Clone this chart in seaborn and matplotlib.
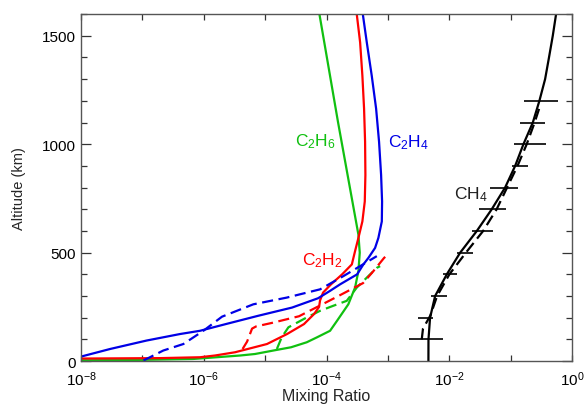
import matplotlib
matplotlib.use("Agg")
import matplotlib.pyplot as plt
from matplotlib.ticker import MultipleLocator, NullLocator
import seaborn as sns

# model profiles: mixing ratio vs altitude (km)
ch4_alt = [0, 100, 200, 300, 400, 500, 600, 700, 800, 900, 1000, 1100, 1200, 1300, 1400, 1500, 1600]
ch4_mix = [4.56e-3, 4.57e-3, 4.85e-3, 5.86e-3, 9.08e-3, 1.50e-2, 2.80e-2, 4.90e-2, 8.09e-2,
           0.118, 0.161, 0.229, 0.293, 0.363, 0.42, 0.484, 0.548]
ch4_dash_alt = [100, 150, 210, 300, 400, 500, 600, 700, 800, 900, 1000, 1100, 1170]
ch4_dash_mix = [3.55e-3, 3.72e-3, 4.90e-3, 6.31e-3, 1.0e-2, 1.86e-2, 3.55e-2, 5.89e-2, 8.71e-2,
                0.129, 0.182, 0.245, 0.295]

# CH4 observations (horizontal error bars)
obs_alt = [100, 200, 300, 400, 500, 600, 700, 800, 900, 1000, 1100, 1200]
obs_lo = [2.23e-3, 3.13e-3, 4.99e-3, 7.82e-3, 1.32e-2, 2.32e-2, 3.09e-2, 4.61e-2, 0.104, 0.115, 0.144, 0.163]
obs_hi = [8.0e-3, 5.5e-3, 9.29e-3, 1.32e-2, 2.47e-2, 5.22e-2, 8.41e-2, 0.133, 0.190, 0.377, 0.368, 0.58]

c2h6_alt = [1600, 1100, 583, 500, 415, 339, 262, 186, 140, 110, 87, 64, 49, 33, 26, 10, 6, 4, 3]
c2h6_mix = [7.64e-5, 1.54e-4, 3.30e-4, 3.47e-4, 3.30e-4, 2.91e-4, 2.26e-4, 1.48e-4, 1.14e-4,
            7.0e-5, 4.75e-5, 2.64e-5, 1.36e-5, 6.84e-6, 3.90e-6, 6.68e-7, 1.0e-7, 1.0e-8, 1.0e-9]
c2h6_dash_alt = [56, 110, 156, 201, 232, 255, 278, 339, 385, 430, 438]
c2h6_dash_mix = [1.55e-5, 1.86e-5, 2.39e-5, 4.72e-5, 7.83e-5, 1.28e-4, 2.13e-4, 3.10e-4,
                 4.52e-4, 6.58e-4, 7.45e-4]

c2h2_alt = [1600, 1469, 1316, 1164, 1011, 858, 736, 644, 568, 507, 446, 400, 354, 316, 280, 250,
            217, 171, 125, 79, 41, 26, 18, 14, 12, 11]
c2h2_mix = [3.10e-4, 3.52e-4, 3.83e-4, 4.08e-4, 4.24e-4, 4.29e-4, 4.19e-4, 3.83e-4, 3.30e-4,
            2.91e-4, 2.58e-4, 1.79e-4, 1.18e-4, 8.77e-5, 7.83e-5, 7.55e-5, 6.25e-5, 4.29e-5,
            2.27e-5, 1.07e-5, 3.23e-6, 1.52e-6, 8.69e-7, 1.94e-7, 1.0e-8, 5.0e-9]
c2h2_dash_alt = [56, 90, 150, 160, 177, 207, 252, 296, 360, 415, 476, 484]
c2h2_dash_mix = [4.28e-6, 5.07e-6, 6.11e-6, 7.10e-6, 1.32e-5, 3.56e-5, 7.28e-5, 1.46e-4,
                 3.94e-4, 5.79e-4, 8.65e-4, 9.31e-4]

c2h4_alt = [1600, 1469, 1316, 1164, 1011, 858, 736, 644, 568, 522, 476, 446, 400, 354, 324, 290,
            247, 209, 170, 140, 125, 95, 56, 21]
c2h4_mix = [3.89e-4, 4.52e-4, 5.44e-4, 6.41e-4, 7.16e-4, 7.73e-4, 8.02e-4, 7.94e-4, 6.98e-4,
            6.17e-4, 4.80e-4, 3.98e-4, 3.14e-4, 1.66e-4, 1.14e-4, 7.28e-5, 2.74e-5, 7.66e-6,
            2.22e-6, 8.69e-7, 4.10e-7, 1.17e-7, 2.97e-8, 1.0e-8]
c2h4_dash_alt = [3, 49, 79, 140, 205, 262, 293, 331, 392, 438, 484]
c2h4_dash_mix = [1.04e-7, 2.19e-7, 4.65e-7, 9.84e-7, 1.98e-6, 6.41e-6, 2.25e-5, 7.83e-5,
                 1.88e-4, 3.52e-4, 6.58e-4]

# species labels: text, x (left edge), altitude
label_text = [r"C$_2$H$_6$", r"C$_2$H$_4$", r"C$_2$H$_2$", r"CH$_4$"]
label_x = [3.07e-5, 1.0e-3, 3.95e-5, 1.19e-2]
label_y = [1017, 1012, 467, 770]

x_ticks = [1e-8, 1e-7, 1e-6, 1e-5, 1e-4, 1e-3, 1e-2, 1e-1, 1e0]
x_ticklabels = [r"$10^{-8}$", "", r"$10^{-6}$", "", r"$10^{-4}$", "", r"$10^{-2}$", "", r"$10^{0}$"]

sns.set_style("ticks")
plt.rcParams["font.family"] = ["Liberation Sans", "DejaVu Sans"]
plt.rcParams["mathtext.default"] = "regular"

GREEN = "#10c010"
BLUE = "#0000e6"
RED = "#ff0000"
dash = (0, (5, 2.5))

fig, ax = plt.subplots(figsize=(5.85, 4.06), dpi=100)
fig.subplots_adjust(left=0.1385, right=0.978, bottom=0.108, top=0.963)

profiles = [
    (ch4_mix, ch4_alt, "black", "-"), (ch4_dash_mix, ch4_dash_alt, "black", dash),
    (c2h6_mix, c2h6_alt, GREEN, "-"), (c2h6_dash_mix, c2h6_dash_alt, GREEN, dash),
    (c2h2_mix, c2h2_alt, RED, "-"), (c2h2_dash_mix, c2h2_dash_alt, RED, dash),
    (c2h4_mix, c2h4_alt, BLUE, "-"), (c2h4_dash_mix, c2h4_dash_alt, BLUE, dash),
]
for xs, ys, col, ls in profiles:
    sns.lineplot(x=xs, y=ys, sort=False, estimator=None, color=col, lw=1.6, ax=ax)
    ax.lines[-1].set_linestyle(ls)

ax.hlines(obs_alt, obs_lo, obs_hi, color="black", lw=1.2)

label_col = [GREEN, BLUE, RED, "#202020"]
for t, x, y, c in zip(label_text, label_x, label_y, label_col):
    ax.text(x, y, t, color=c, fontsize=12.5, ha="left", va="center")

ax.set_xscale("log")
ax.set_xlim(1e-8, 1e0)
ax.set_ylim(0, 1600)
ax.set_xticks(x_ticks, labels=x_ticklabels)
ax.xaxis.set_minor_locator(NullLocator())
ax.yaxis.set_major_locator(MultipleLocator(500))
ax.yaxis.set_minor_locator(MultipleLocator(100))

ax.tick_params(axis="both", which="both", direction="in", top=True, right=True,
               labelsize=11, colors="#333333", labelcolor="black")
ax.tick_params(axis="x", which="major", length=4, width=0.9, pad=6)
ax.tick_params(axis="y", which="major", length=7.5, width=0.9, pad=4)
ax.tick_params(axis="y", which="minor", length=4, width=0.9)
for s in ax.spines.values():
    s.set_color("#555555")
    s.set_linewidth(1.0)

ax.set_xlabel("Mixing Ratio", fontsize=11.5, va="center")
ax.xaxis.set_label_coords(0.5, -0.098)
ax.set_ylabel("Altitude (km)", fontsize=10.5, va="center")
ax.yaxis.set_label_coords(-0.127, 0.5)

fig.savefig("out.png", dpi=100)
